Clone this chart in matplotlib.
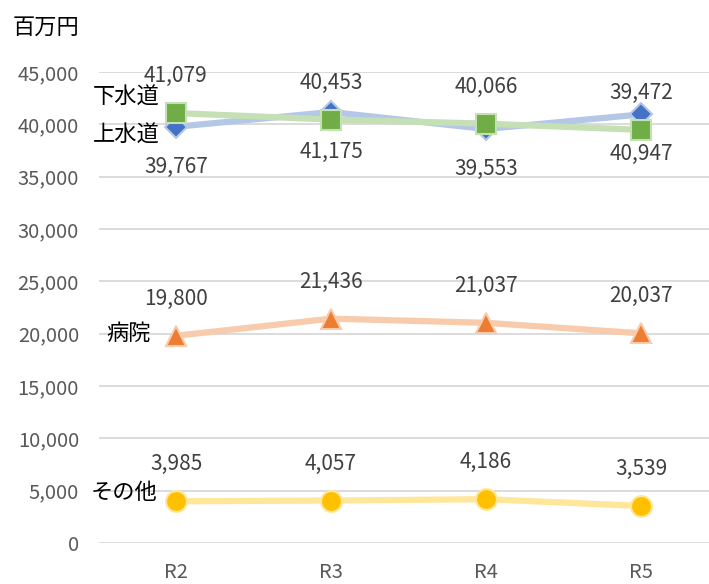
import matplotlib
matplotlib.use("Agg")
import matplotlib.pyplot as plt

plt.rcParams['font.family'] = ['Noto Sans CJK JP', 'DejaVu Sans']

categories = ["R2", "R3", "R4", "R5"]
water = [39767, 41175, 39553, 40947]      # 上水道
sewer = [41079, 40453, 40066, 39472]      # 下水道
hospital = [19800, 21436, 21037, 20037]   # 病院
other = [3985, 4057, 4186, 3539]          # その他
yticks = [0, 5000, 10000, 15000, 20000, 25000, 30000, 35000, 40000, 45000]

W, H = 709, 584
fig = plt.figure(figsize=(W / 100, H / 100), dpi=100)
left = 98.5 / W
width = 620 / W
bottom = 41 / H
height = 471 / H
ax = fig.add_axes([left, bottom, width, height])

x = list(range(len(categories)))

series = [
    ("上水道", water, "#B4C7E7", "#4472C4", "D", 11.5, -40),
    ("下水道", sewer, "#C5E0B4", "#70AD47", "s", 15, 37),
    ("病院", hospital, "#F8CBAD", "#ED7D31", "^", 15, 37),
    ("その他", other, "#FFE699", "#FFC000", "o", 15, 37),
]

for name, vals, lc, mc, mk, ms, off in series:
    ax.plot(x, vals, color=lc, lw=4.5, zorder=2, solid_capstyle='butt')
    ax.plot(x, vals, linestyle='none', marker=mk, markersize=ms,
            markerfacecolor=mc, markeredgecolor=lc, markeredgewidth=1.5, zorder=3)
    for xi, v in zip(x, vals):
        ax.annotate(f"{v:,}", (xi, v), xytext=(0, off), textcoords='offset pixels',
                    ha='center', va='center', fontsize=15, color='#404040', zorder=4)

# series name labels
name_pos = [
    ("下水道", sewer[0], -16, 16),
    ("上水道", water[0], -16, -8),
    ("病院", hospital[0], -25, 2),
    ("その他", other[0], -19, 9),
]
for name, v, dx, dy in name_pos:
    ax.annotate(name, (0, v), xytext=(dx, dy), textcoords='offset pixels',
                ha='right', va='center', fontsize=16, color='black', zorder=5)

ax.set_xlim(-0.5, len(categories) - 0.5)
ax.set_ylim(0, 45000)
ax.set_yticks(yticks)
ax.set_yticklabels([f"{t:,}" for t in yticks])
ax.set_xticks(x)
ax.set_xticklabels(categories)
ax.grid(axis='y', color='#D9D9D9', lw=1.3, zorder=0)
ax.set_axisbelow(True)
for s in ax.spines.values():
    s.set_visible(False)
ax.tick_params(axis='both', length=0, labelsize=14.5, labelcolor='#595959')
ax.tick_params(axis='y', pad=14)
ax.tick_params(axis='x', pad=14)

fig.text(13 / W, 1 - 27 / H, "百万円", fontsize=16, color='black', ha='left', va='center')

fig.savefig("out.png", dpi=100)
